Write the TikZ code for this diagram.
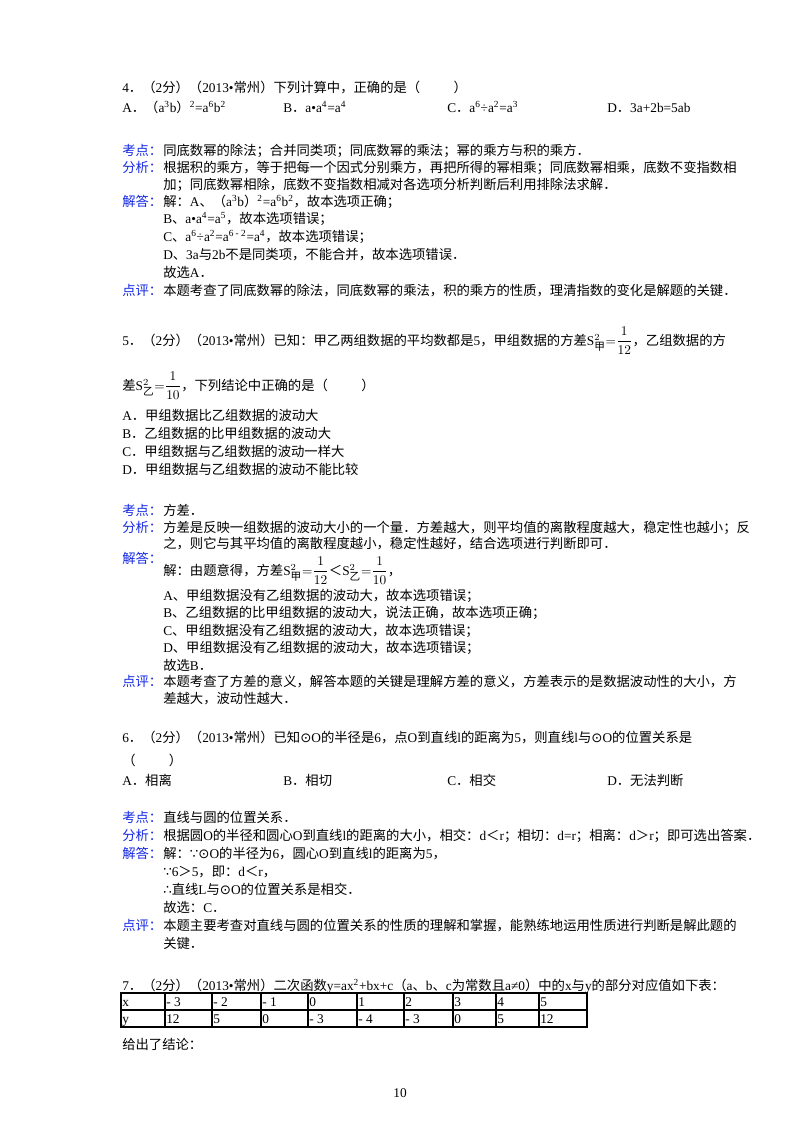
\documentclass[tikz,border=0pt]{standalone}
\usepackage{fontspec}
\setmainfont{Liberation Serif}
\newfontfamily\cjk{Noto Sans CJK SC}
\newfontfamily\sym{DejaVu Sans}
\XeTeXinterchartokenstate=1
\newXeTeXintercharclass\cjkclass
\count255="4E00 \loop\XeTeXcharclass\count255=\cjkclass\advance\count255 by 1 \ifnum\count255<"A000 \repeat
\count255="3000 \loop\XeTeXcharclass\count255=\cjkclass\advance\count255 by 1 \ifnum\count255<"3040 \repeat
\count255="FF00 \loop\XeTeXcharclass\count255=\cjkclass\advance\count255 by 1 \ifnum\count255<"FF60 \repeat
\XeTeXinterchartoks 0 \cjkclass={\begingroup\cjk}
\XeTeXinterchartoks 4095 \cjkclass={\begingroup\cjk}
\XeTeXinterchartoks \cjkclass 0={\endgroup}
\XeTeXinterchartoks \cjkclass 4095={\endgroup}
\definecolor{lab}{RGB}{20,40,230}
\newcommand\Sv[1]{$\mathrm{S}^{2}_{\hbox{\cjk\footnotesize #1}}$}
\newcommand\frc[2]{$\displaystyle{=}\frac{#1}{#2}$}
\newcommand\up[1]{\textsuperscript{#1}}
\begin{document}
\begin{tikzpicture}[x=0.75pt,y=-0.75pt,
  t/.style={anchor=base west,inner sep=0pt,font=\fontsize{10}{12}\selectfont},
  l/.style={t,text=lab}]
\useasboundingbox (0,0) rectangle (800,1132);
\fill[white] (0,0) rectangle (800,1132);
% Q4
\node[t] (q4) at (122,92) {4．（2分）（2013•常州）下列计算中，正确的是（\hspace{2.5em}）};
\node[t] (q4a) at (122,112) {A．（a\up{3}b）\up{2}=a\up{6}b\up{2}};
\node[t] (q4b) at (283,112) {B．a•a\up{4}=a\up{4}};
\node[t] (q4c) at (447,112) {C．a\up{6}÷a\up{2}=a\up{3}};
\node[t] (q4d) at (607,112) {D．3a+2b=5ab};
\node[l] (k4) at (122,155) {考点：};
\node[t] at (163,155) {同底数幂的除法；合并同类项；同底数幂的乘法；幂的乘方与积的乘方．};
\node[l] (f4) at (122,172) {分析：};
\node[t] at (163,172) {根据积的乘方，等于把每一个因式分别乘方，再把所得的幂相乘；同底数幂相乘，底数不变指数相};
\node[t] at (163,189) {加；同底数幂相除，底数不变指数相减对各选项分析判断后利用排除法求解．};
\node[l] (j4) at (122,206) {解答：};
\node[t] at (163,206) {解：A、（a\up{3}b）\up{2}=a\up{6}b\up{2}，故本选项正确；};
\node[t] at (163,223) {B、a•a\up{4}=a\up{5}，故本选项错误；};
\node[t] at (163,241) {C、a\up{6}÷a\up{2}=a\up{6 - 2}=a\up{4}，故本选项错误；};
\node[t] at (163,259) {D、3a与2b不是同类项，不能合并，故本选项错误．};
\node[t] at (163,277) {故选A．};
\node[l] (d4) at (122,295) {点评：};
\node[t] at (163,295) {本题考查了同底数幂的除法，同底数幂的乘法，积的乘方的性质，理清指数的变化是解题的关键．};
% Q5
\node[t] (q5) at (122,345) {5．（2分）（2013•常州）已知：甲乙两组数据的平均数都是5，甲组数据的方差\Sv{甲}\frc{1}{12}，乙组数据的方};
\node[t] (q5b) at (122,390) {差\Sv{乙}\frc{1}{10}，下列结论中正确的是（\hspace{2.5em}）};
\node[t] at (122,420) {A．甲组数据比乙组数据的波动大};
\node[t] at (122,438) {B．乙组数据的比甲组数据的波动大};
\node[t] at (122,456) {C．甲组数据与乙组数据的波动一样大};
\node[t] at (122,474) {D．甲组数据与乙组数据的波动不能比较};
\node[l] (k5) at (122,515) {考点：};
\node[t] at (163,515) {方差．};
\node[l] (f5) at (122,532) {分析：};
\node[t] at (163,532) {方差是反映一组数据的波动大小的一个量．方差越大，则平均值的离散程度越大，稳定性也越小；反};
\node[t] at (163,548) {之，则它与其平均值的离散程度越小，稳定性越好，结合选项进行判断即可．};
\node[l] (j5) at (122,563) {解答：};
\node[t] at (163,575) {解：由题意得，方差\Sv{甲}\frc{1}{12}＜\Sv{乙}\frc{1}{10}，};
\node[t] at (163,600) {A、甲组数据没有乙组数据的波动大，故本选项错误；};
\node[t] at (163,617) {B、乙组数据的比甲组数据的波动大，说法正确，故本选项正确；};
\node[t] at (163,635) {C、甲组数据没有乙组数据的波动大，故本选项错误；};
\node[t] at (163,652) {D、甲组数据没有乙组数据的波动大，故本选项错误；};
\node[t] at (163,670) {故选B．};
\node[l] (d5) at (122,686) {点评：};
\node[t] at (163,686) {本题考查了方差的意义，解答本题的关键是理解方差的意义，方差表示的是数据波动性的大小，方};
\node[t] at (163,703) {差越大，波动性越大．};
% Q6
\node[t] (q6) at (122,742) {6．（2分）（2013•常州）已知{\sym ⊙}O的半径是6，点O到直线l的距离为5，则直线l与{\sym ⊙}O的位置关系是};
\node[t] at (122,765) {（\hspace{2.5em}）};
\node[t] at (122,785) {A．相离};
\node[t] at (283,785) {B．相切};
\node[t] at (447,785) {C．相交};
\node[t] at (607,785) {D．无法判断};
\node[l] (k6) at (122,822) {考点：};
\node[t] at (163,822) {直线与圆的位置关系．};
\node[l] (f6) at (122,840) {分析：};
\node[t] at (163,840) {根据圆O的半径和圆心O到直线l的距离的大小，相交：d＜r；相切：d=r；相离：d＞r；即可选出答案．};
\node[l] (j6) at (122,858) {解答：};
\node[t] at (163,858) {解：{\sym ∵⊙}O的半径为6，圆心O到直线l的距离为5，};
\node[t] at (163,876) {{\sym ∵}6＞5，即：d＜r，};
\node[t] at (163,894) {{\sym ∴}直线L与{\sym ⊙}O的位置关系是相交．};
\node[t] at (163,912) {故选：C．};
\node[l] (d6) at (122,930) {点评：};
\node[t] at (163,930) {本题主要考查对直线与圆的位置关系的性质的理解和掌握，能熟练地运用性质进行判断是解此题的};
\node[t] at (163,948) {关键．};
% Q7
\node[t] (q7) at (122,990) {7．（2分）（2013•常州）二次函数y=ax\up{2}+bx+c（a、b、c为常数且a≠0）中的x与y的部分对应值如下表：};
\draw[line width=0.9pt] (121,993) rectangle (587,1027);
\draw[line width=0.9pt] (121,1010) -- (587,1010);
\foreach \xx in {165,212,261,308,357,404,453,496,539}{\draw[line width=0.9pt] (\xx,993) -- (\xx,1027);}
\foreach \xx/\v/\w in {122/x/y,166/- 3/12,213/- 2/5,262/- 1/0,309/0/- 3,358/1/- 4,405/2/- 3,454/3/0,497/4/5,540/5/12}{
  \node[t] at (\xx,1006) {\v};
  \node[t] at (\xx,1023) {\w};}
\node[t] at (122,1049) {给出了结论：};
\node[t,anchor=base] at (400,1097) {10};
\end{tikzpicture}
\end{document}
